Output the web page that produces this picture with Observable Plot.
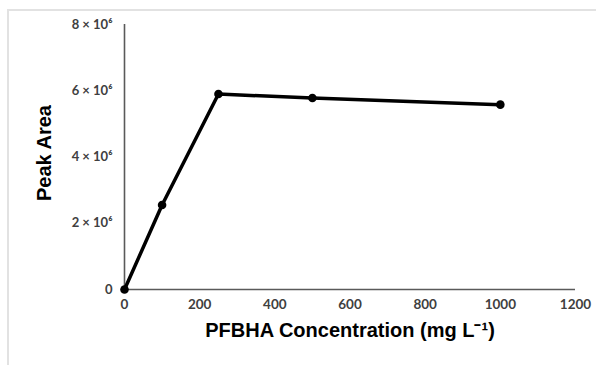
<!DOCTYPE html>
<html>
<head>
<meta charset="utf-8">
<script src="https://cdn.jsdelivr.net/npm/d3@7"></script>
<script src="https://cdn.jsdelivr.net/npm/@observablehq/plot@0.6"></script>
<style>
  html, body { margin: 0; padding: 0; background: #fff; }
  #wrap { position: relative; width: 596px; height: 365px; overflow: hidden; }
  #border { position: absolute; left: 7px; top: 9px; right: -10px; bottom: -10px; border-left: 2px solid #e2e2e2; border-top: 2px solid #e2e2e2; }
  #chart { position: absolute; left: 0; top: 0; }
</style>
</head>
<body>
<div id="wrap"><div id="border"></div><div id="chart"></div></div>
<script>
const concentration = [0, 100, 250, 500, 1000];
const peakArea = [0, 2.55e6, 5.9e6, 5.78e6, 5.58e6];
const xTicks = [0, 200, 400, 600, 800, 1000, 1200];
const yTicks = [0, 2e6, 4e6, 6e6, 8e6];
const yTickLabels = ["0", "2 × 10⁶", "4 × 10⁶", "6 × 10⁶", "8 × 10⁶"];
const xTitle = "PFBHA Concentration (mg L⁻¹)";
const yTitle = "Peak Area";

const data = concentration.map((c, i) => ({x: c, y: peakArea[i]}));
const tickFont = {fontFamily: "Lato, 'Open Sans', sans-serif", fontWeight: "bold"};

const chart = Plot.plot({
  width: 596,
  height: 365,
  marginLeft: 124,
  marginRight: 21,
  marginTop: 24,
  marginBottom: 76,
  style: {background: "transparent", fontFamily: "Lato, sans-serif"},
  x: {domain: [0, 1200], axis: null},
  y: {domain: [0, 8e6], axis: null},
  marks: [
    Plot.ruleY([0], {x1: 0, x2: 1200, stroke: "#5a5a5a", strokeWidth: 1.6}),
    Plot.ruleX([0], {y1: 0, y2: 8e6, stroke: "#5a5a5a", strokeWidth: 1.6}),
    Plot.text(xTicks, {x: d => d, frameAnchor: "bottom", dy: 19, text: d => String(d), fontSize: 13.5, fill: "#404040", ...tickFont}),
    Plot.text(yTicks, {y: d => d, frameAnchor: "left", dx: -12, textAnchor: "end", text: (d, i) => yTickLabels[i], fontSize: 13, fill: "#404040", ...tickFont}),
    Plot.line(data, {x: "x", y: "y", stroke: "black", strokeWidth: 3.5}),
    Plot.dot(data, {x: "x", y: "y", fill: "black", r: 4.3}),
    Plot.text([xTitle], {frameAnchor: "bottom", dy: 47, text: d => d, fontSize: 20, fontWeight: "bold", fill: "black", fontFamily: "Liberation Sans, Arial, sans-serif"}),
    Plot.text([yTitle], {frameAnchor: "left", textAnchor: "middle", dx: -80, dy: -4, rotate: -90, text: d => d, fontSize: 20, fontWeight: "bold", fill: "black", fontFamily: "Liberation Sans, Arial, sans-serif"})
  ]
});
document.getElementById("chart").appendChild(chart);
</script>
</body>
</html>
